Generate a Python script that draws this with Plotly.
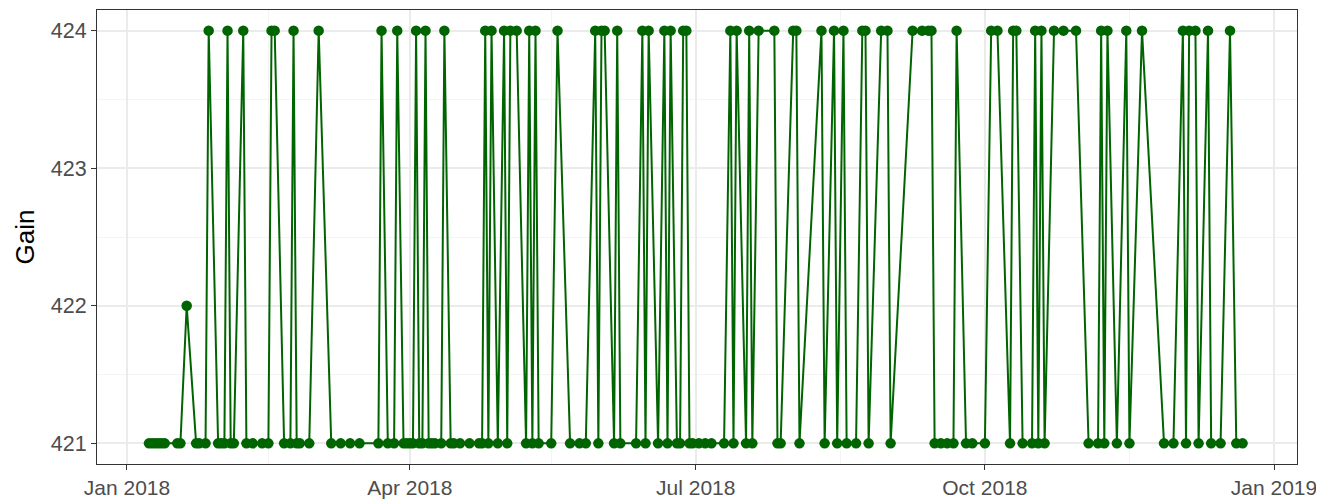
import pandas as pd
import plotly.graph_objects as go

# Day offsets from 2018-01-01
day_offset = [
    7, 8, 9, 10, 11, 12, 16, 17, 19, 22, 23, 25, 26, 29, 30, 31, 32, 33, 34, 37,
    38, 40, 43, 45, 46, 47, 50, 52, 53, 54, 55, 58, 61, 65, 68, 71, 74, 80, 81, 83,
    85, 86, 88, 89, 90, 91, 92, 93, 94, 95, 96, 97, 98, 100, 101, 103, 104, 106, 109, 112,
    113, 114, 115, 116, 118, 120, 121, 122, 124, 127, 128, 129, 130, 131, 135, 137, 141, 144, 146, 149,
    150, 151, 152, 155, 156, 157, 162, 164, 165, 166, 169, 171, 172, 173, 175, 176, 177, 178, 179, 180,
    182, 184, 186, 190, 192, 193, 194, 197, 198, 199, 201, 206, 207, 208, 212, 213, 214, 221, 222, 225,
    226, 228, 229, 232, 234, 235, 236, 240, 242, 243, 250, 253, 255, 256, 257, 259, 261, 263, 264, 267,
    269, 273, 275, 277, 281, 282, 283, 285, 288, 289, 290, 291, 292, 295, 298, 302, 306, 309, 310, 311,
    312, 315, 318, 319, 323, 330, 333, 336, 337, 338, 340, 341, 344, 345, 348, 351, 353, 355,
]
gain = [
    421, 421, 421, 421, 421, 421, 421, 421, 422, 421, 421, 421, 424, 421, 421, 421, 424, 421, 421, 424,
    421, 421, 421, 421, 424, 424, 421, 421, 424, 421, 421, 421, 424, 421, 421, 421, 421, 421, 424, 421,
    421, 424, 421, 421, 421, 421, 424, 421, 421, 424, 421, 421, 421, 421, 424, 421, 421, 421, 421, 421,
    421, 424, 421, 424, 421, 424, 421, 424, 424, 421, 424, 421, 424, 421, 421, 424, 421, 421, 421, 424,
    421, 424, 424, 421, 424, 421, 421, 424, 421, 424, 421, 424, 421, 424, 421, 421, 424, 424, 421, 421,
    421, 421, 421, 421, 424, 421, 424, 421, 424, 421, 424, 424, 421, 421, 424, 424, 421, 424, 421, 424,
    421, 424, 421, 421, 424, 424, 421, 424, 424, 421, 424, 424, 424, 424, 421, 421, 421, 421, 424, 421,
    421, 421, 424, 424, 421, 424, 424, 421, 421, 424, 421, 424, 421, 424, 424, 424, 421, 421, 424, 421,
    424, 421, 424, 421, 424, 421, 421, 424, 421, 424, 424, 421, 424, 421, 421, 424, 421, 421,
]

x_tick_vals = ["2018-01-01", "2018-04-01", "2018-07-01", "2018-10-01", "2019-01-01"]
x_tick_text = ["Jan 2018", "Apr 2018", "Jul 2018", "Oct 2018", "Jan 2019"]
x_minor_vals = ["2018-02-15", "2018-05-16", "2018-08-16", "2018-11-16"]
y_tick_vals = [421, 422, 423, 424]
y_minor_vals = [421.5, 422.5, 423.5]

dates = pd.Timestamp("2018-01-01") + pd.to_timedelta(day_offset, unit="D")

fig = go.Figure()
fig.add_trace(go.Scatter(
    x=dates, y=gain, mode="lines+markers",
    line=dict(color="#006400", width=2),
    marker=dict(color="#006400", size=10.5),
    showlegend=False,
))

grid_major = "#EBEBEB"
grid_minor = "#F4F4F4"
fig.update_layout(
    width=1316, height=492,
    margin=dict(l=89, r=27, t=2, b=36, autoexpand=False),
    paper_bgcolor="white", plot_bgcolor="white",
    font=dict(family="Liberation Sans, Arial, sans-serif", size=21, color="#4D4D4D"),
    xaxis=dict(
        range=["2017-12-22 11:00", "2019-01-08 07:40"],
        tickvals=x_tick_vals, ticktext=x_tick_text,
        automargin=False,
        showgrid=True, gridcolor=grid_major, gridwidth=1.5,
        minor=dict(tickvals=x_minor_vals, showgrid=True, gridcolor=grid_minor, gridwidth=0.8, ticks=""),
        ticks="outside", ticklen=5, tickcolor="#333333", tickwidth=1,
        showline=True, linecolor="#333333", linewidth=1, mirror=True,
        zeroline=False,
        tickfont=dict(size=21, color="#4D4D4D"),
    ),
    yaxis=dict(
        range=[420.85, 424.15],
        tickvals=y_tick_vals,
        automargin=False,
        showgrid=True, gridcolor=grid_major, gridwidth=1.5,
        minor=dict(tickvals=y_minor_vals, showgrid=True, gridcolor=grid_minor, gridwidth=0.8, ticks=""),
        ticks="outside", ticklen=5, tickcolor="#333333", tickwidth=1,
        showline=True, linecolor="#333333", linewidth=1, mirror=True,
        zeroline=False,
        tickfont=dict(size=21.5, color="#4D4D4D"),
        title=dict(text="Gain", font=dict(size=26, color="black"), standoff=8),
    ),
)

fig.write_html("out.html")
